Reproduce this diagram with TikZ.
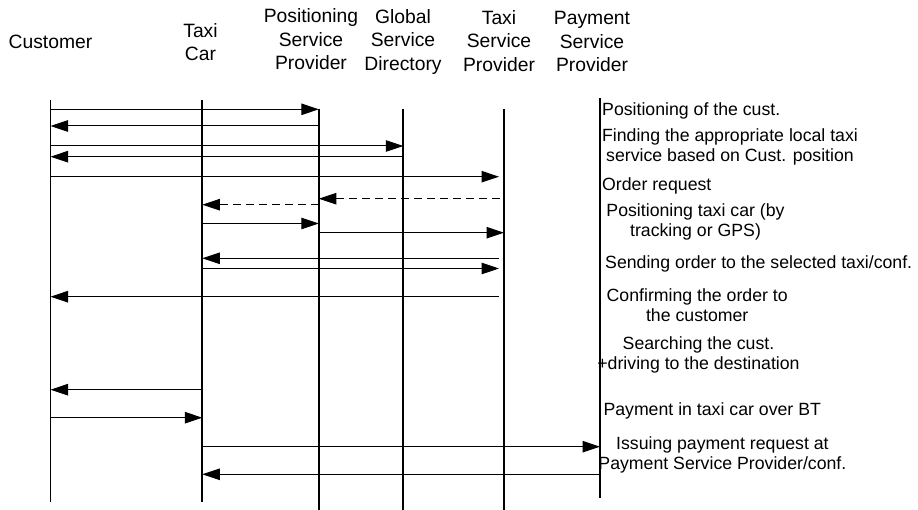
\documentclass[tikz,border=0pt]{standalone}
\usepackage{fontspec}
\setmainfont{Liberation Sans}
\usetikzlibrary{arrows.meta}

\begin{document}
\begin{tikzpicture}[x=1pt,y=-1pt,
  lifeline/.style={line width=1.7pt},
  msg/.style={line width=1pt,-{Triangle[length=17.5pt,width=11.5pt]}},
  reply/.style={msg,dash pattern=on 8pt off 5pt},
  head/.style={font=\fontsize{19.3}{23.5}\selectfont,align=center,inner sep=0pt},
  note/.style={font=\fontsize{17.7}{20.3}\selectfont,align=center,inner sep=0pt}]
\useasboundingbox (0,0) rectangle (918,510);

% lifeline positions
\coordinate (cu) at (50.5,0);
\coordinate (tc) at (202.3,0);
\coordinate (ps) at (318.8,0);
\coordinate (gd) at (403.3,0);
\coordinate (ts) at (504,0);
\coordinate (pp) at (600,0);

% participants
\node[head] (hcu) at (50.5,42) {Customer};
\node[head,anchor=north] (htc) at (200.5,23) {Taxi\\Car};
\node[head,anchor=north] (hps) at (311,8.8) {Positioning\\Service\\Provider};
\node[head,anchor=north] (hgd) at (403,9.3) {Global\\Service\\Directory};
\node[head,anchor=north] (hts) at (499,10.3) {Taxi\\Service\\Provider};
\node[head,anchor=north] (hpp) at (592,11.5) {Payment\\Service\\Provider};

% lifelines
\draw[lifeline] (cu |- 0,100) -- (cu |- 0,502);
\draw[lifeline] (tc |- 0,100) -- (tc |- 0,502);
\draw[lifeline] (ps |- 0,109) -- (ps |- 0,510);
\draw[lifeline] (gd |- 0,109) -- (gd |- 0,510);
\draw[lifeline] (ts |- 0,109) -- (ts |- 0,510);
\draw[lifeline] (pp |- 0,98) -- (pp |- 0,498);

% messages
\draw[msg] (cu |- 0,109.3) -- (ps |- 0,109.3);
\draw[msg] (ps |- 0,126) -- (cu |- 0,126);
\draw[msg] (cu |- 0,146) -- (gd |- 0,146);
\draw[msg] (gd |- 0,156.7) -- (cu |- 0,156.7);
\draw[msg] (cu |- 0,176.7) -- ([xshift=-5pt]ts |- 0,176.7);
\draw[reply] ([xshift=-4pt]ts |- 0,198.7) -- (ps |- 0,198.7);
\draw[reply] (ps |- 0,204.7) -- (tc |- 0,204.7);
\draw[msg] (tc |- 0,223.5) -- (ps |- 0,223.5);
\draw[msg] (ps |- 0,232.7) -- (ts |- 0,232.7);
\draw[msg] ([xshift=-5pt]ts |- 0,258.3) -- (tc |- 0,258.3);
\draw[msg] (tc |- 0,268.5) -- ([xshift=-5pt]ts |- 0,268.5);
\draw[msg] ([xshift=-5pt]ts |- 0,296.7) -- (cu |- 0,296.7);
\draw[msg] (tc |- 0,389.7) -- (cu |- 0,389.7);
\draw[msg] (cu |- 0,417.7) -- (tc |- 0,417.7);
\draw[msg] (tc |- 0,446.7) -- (pp |- 0,446.7);
\draw[msg] (pp |- 0,474.3) -- (tc |- 0,474.3);

% step descriptions
\node[note,anchor=base west] (n1) at (602,115.9) {Positioning of the cust.};
\node[note,anchor=north] (n2) at (730,128) {Finding the appropriate local taxi\\service based on Cust. position};
\node[note,anchor=base west] (n3) at (602,190.1) {Order request};
\node[note,anchor=north] (n4) at (695.5,203.2) {Positioning taxi car (by\\tracking or GPS)};
\node[note,anchor=base west] (n5) at (605,268.1) {Sending order to the selected taxi/conf.};
\node[note,anchor=north] (n6) at (697.2,288.1) {Confirming the order to\\the customer};
\node[note,anchor=north] (n7) at (698.5,336) {Searching the cust.\\+driving to the destination};
\node[note,anchor=base west] (n8) at (603.3,415.2) {Payment in taxi car over BT};
\node[note,anchor=north] (n9) at (722.4,436) {Issuing payment request at\\Payment Service Provider/conf.};
\end{tikzpicture}
\end{document}
